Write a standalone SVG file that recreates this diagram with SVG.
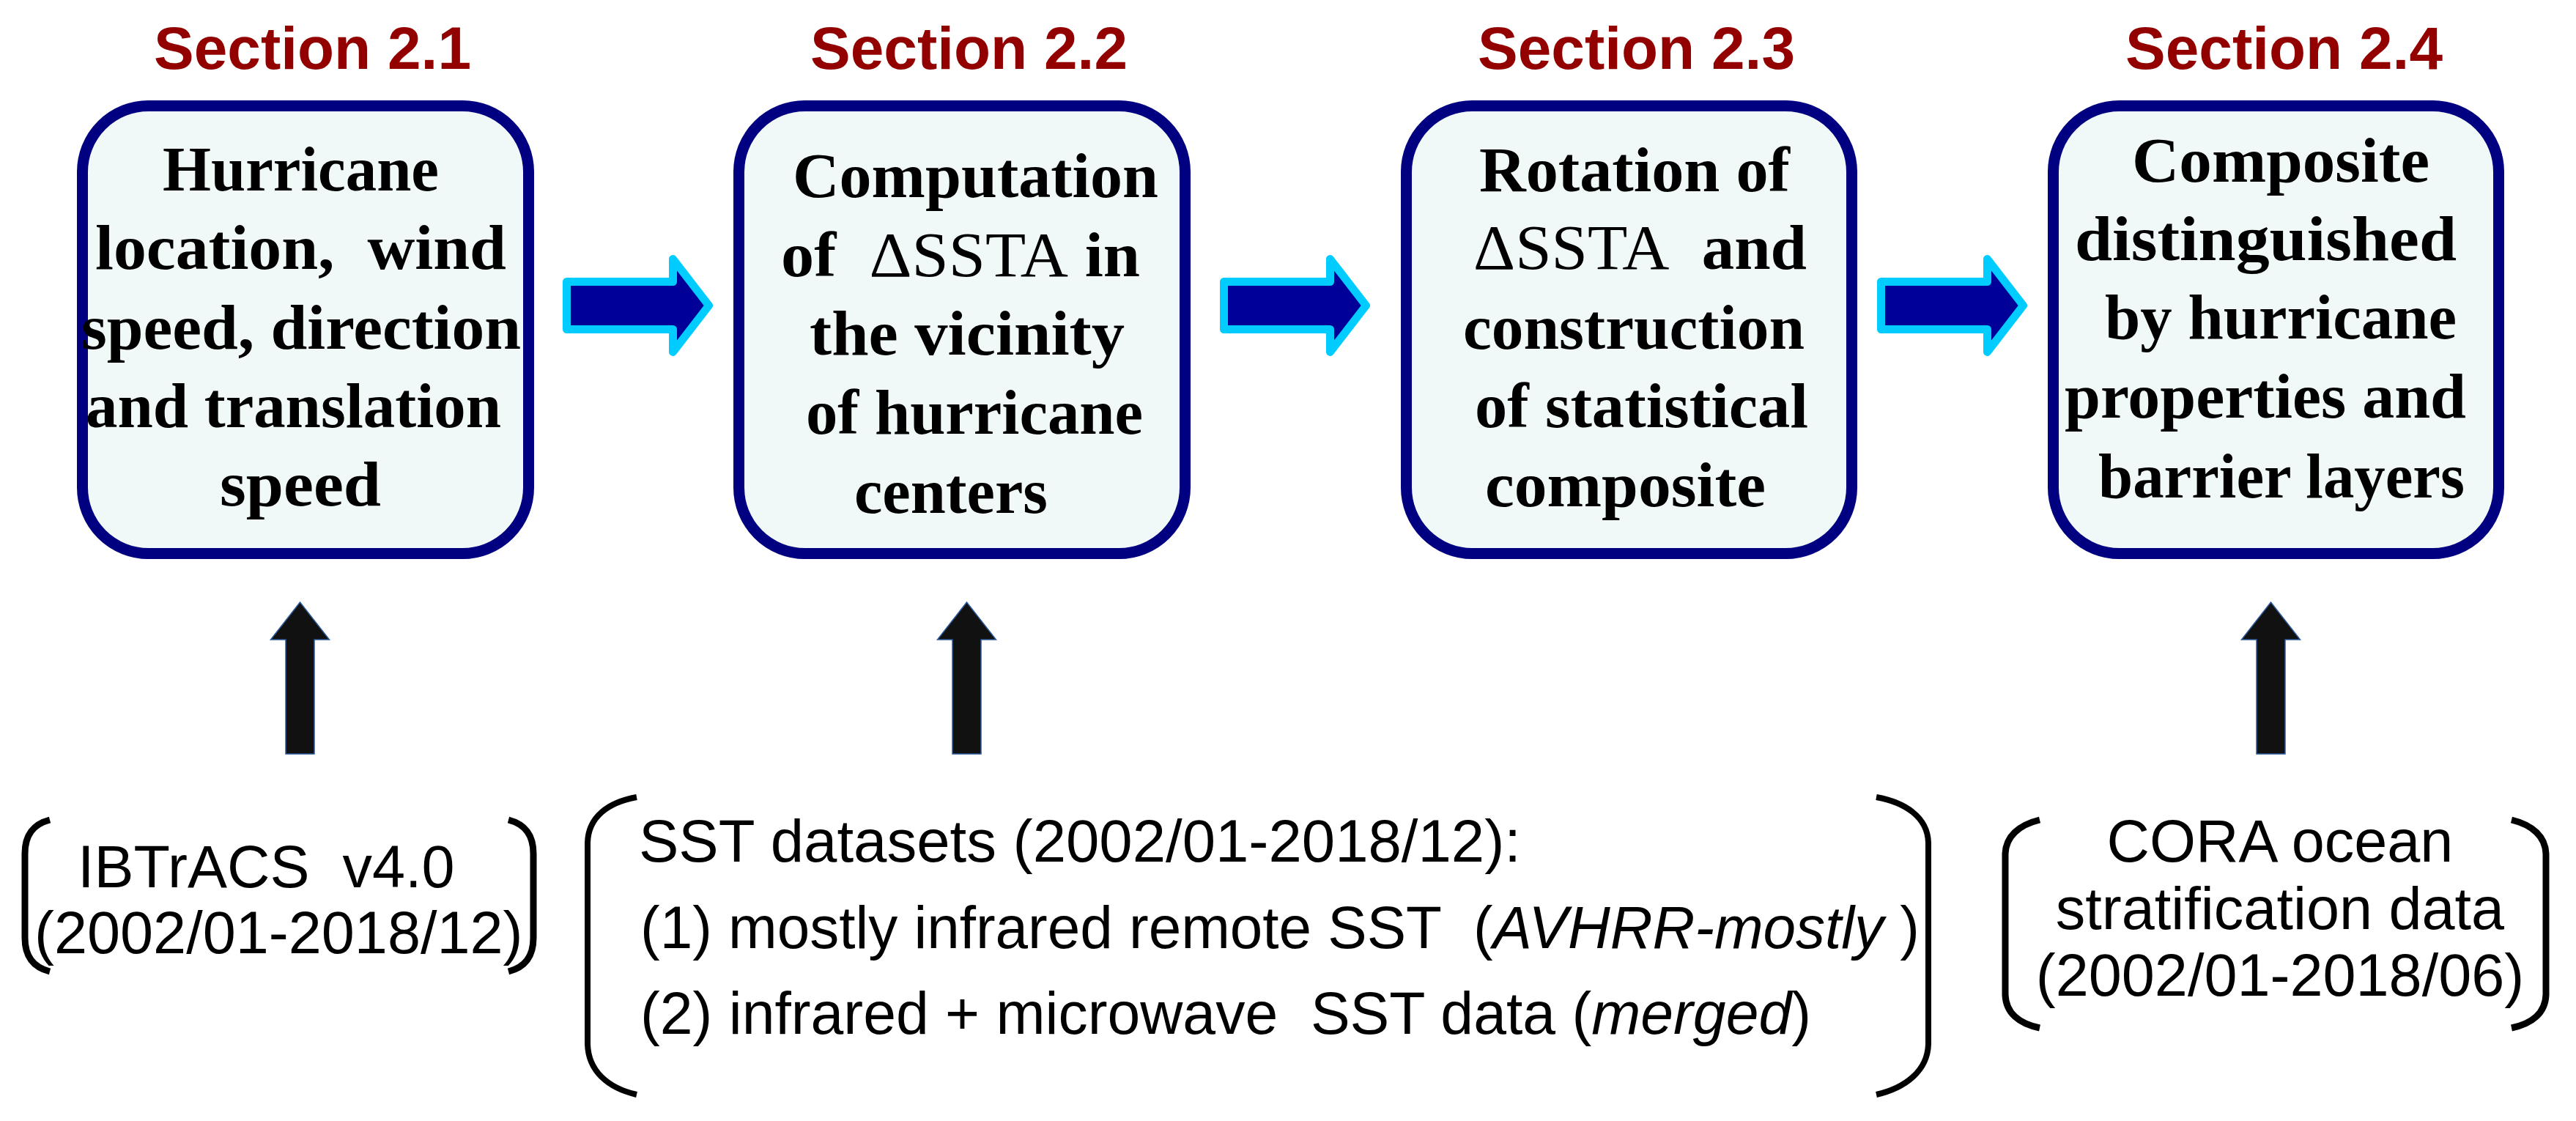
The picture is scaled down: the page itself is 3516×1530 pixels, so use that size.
<svg xmlns="http://www.w3.org/2000/svg" width="3516" height="1530" viewBox="0 0 3516 1530">
<style>
.sec{font-family:"Liberation Sans",Arial,sans-serif;font-weight:bold;font-size:82px;fill:#930000}
.box{fill:#F0F8F8;stroke:#000080;stroke-width:15}
.bt{font-family:"Liberation Serif","Times New Roman",serif;font-weight:bold;font-size:86px;fill:#000}
.nw{font-weight:normal}
.dt{font-family:"Liberation Sans",Arial,sans-serif;font-size:81px;fill:#000}
.it{font-style:italic}
.br{fill:none;stroke:#000;stroke-width:9}
.harr{fill:#000099;stroke:#00CCFF;stroke-width:11;stroke-linejoin:round}
.varr{fill:#111;stroke:#2a5a9a;stroke-width:1.5}
</style>
<rect width="3516" height="1530" fill="#fff"/>

<g id="node-s21">
<text class="sec" x="210" y="94" textLength="433" lengthAdjust="spacingAndGlyphs">Section 2.1</text>
<rect class="box" x="112.5" y="144.5" width="609" height="611" rx="90" ry="90"/>
<text class="bt" x="222" y="260" textLength="377" lengthAdjust="spacingAndGlyphs">Hurricane</text>
<text class="bt" x="130" y="367" textLength="561" lengthAdjust="spacingAndGlyphs" xml:space="preserve">location,  wind</text>
<text class="bt" x="111" y="476" textLength="600" lengthAdjust="spacingAndGlyphs">speed, direction</text>
<text class="bt" x="117" y="583" textLength="567" lengthAdjust="spacingAndGlyphs">and translation</text>
<text class="bt" x="300" y="690" textLength="220" lengthAdjust="spacingAndGlyphs">speed</text>
</g>

<g id="node-s22">
<text class="sec" x="1106" y="94" textLength="433" lengthAdjust="spacingAndGlyphs">Section 2.2</text>
<rect class="box" x="1008.5" y="144.5" width="609" height="611" rx="90" ry="90"/>
<text class="bt" x="1082" y="269" textLength="499" lengthAdjust="spacingAndGlyphs">Computation</text>
<text class="bt" x="1066" y="377" textLength="490" lengthAdjust="spacingAndGlyphs" xml:space="preserve">of  <tspan class="nw">ΔSSTA</tspan> in</text>
<text class="bt" x="1105" y="484" textLength="430" lengthAdjust="spacingAndGlyphs">the vicinity</text>
<text class="bt" x="1100" y="592" textLength="460" lengthAdjust="spacingAndGlyphs">of hurricane</text>
<text class="bt" x="1166" y="700" textLength="264" lengthAdjust="spacingAndGlyphs">centers</text>
</g>

<g id="node-s23">
<text class="sec" x="2017" y="94" textLength="433" lengthAdjust="spacingAndGlyphs">Section 2.3</text>
<rect class="box" x="1919.5" y="144.5" width="608" height="611" rx="90" ry="90"/>
<text class="bt" x="2019" y="261" textLength="424" lengthAdjust="spacingAndGlyphs">Rotation of</text>
<text class="bt" x="2011" y="367" textLength="455" lengthAdjust="spacingAndGlyphs" xml:space="preserve"><tspan class="nw">ΔSSTA</tspan>  and</text>
<text class="bt" x="1997" y="476" textLength="466" lengthAdjust="spacingAndGlyphs">construction</text>
<text class="bt" x="2013" y="583" textLength="455" lengthAdjust="spacingAndGlyphs">of statistical</text>
<text class="bt" x="2027" y="691" textLength="383" lengthAdjust="spacingAndGlyphs">composite</text>
</g>

<g id="node-s24">
<text class="sec" x="2901" y="94" textLength="433" lengthAdjust="spacingAndGlyphs">Section 2.4</text>
<rect class="box" x="2802.5" y="144.5" width="608" height="611" rx="90" ry="90"/>
<text class="bt" x="2910" y="248" textLength="406" lengthAdjust="spacingAndGlyphs">Composite</text>
<text class="bt" x="2832" y="355" textLength="521" lengthAdjust="spacingAndGlyphs">distinguished</text>
<text class="bt" x="2873" y="462" textLength="480" lengthAdjust="spacingAndGlyphs">by hurricane</text>
<text class="bt" x="2818" y="570" textLength="548" lengthAdjust="spacingAndGlyphs">properties and</text>
<text class="bt" x="2864" y="679" textLength="500" lengthAdjust="spacingAndGlyphs">barrier layers</text>
</g>

<g id="node-ibtracs">
<path class="br" d="M68,1119 C45,1125 34,1140 34,1165 V1280 C34,1305 45,1320 68,1326"/>
<path class="br" d="M694,1119 C717,1125 728,1140 728,1165 V1280 C728,1305 717,1320 694,1326"/>
<text class="dt" x="106" y="1211" xml:space="preserve">IBTrACS  v4.0</text>
<text class="dt" x="47" y="1301">(2002/01-2018/12)</text>
</g>

<g id="node-sst">
<path class="br" style="stroke-width:8" d="M869,1088 C830,1095 803,1115 802,1150 V1425 C803,1462 830,1485 869,1494"/>
<path class="br" style="stroke-width:8" d="M2561,1088 C2600,1095 2631,1115 2632,1150 V1425 C2631,1462 2600,1485 2561,1494"/>
<text class="dt" x="872" y="1176" textLength="1204" lengthAdjust="spacingAndGlyphs">SST datasets (2002/01-2018/12):</text>
<text class="dt" x="874" y="1294" textLength="1746" lengthAdjust="spacingAndGlyphs" xml:space="preserve">(1) mostly infrared remote SST  (<tspan class="it">AVHRR-mostly</tspan> )</text>
<text class="dt" x="874" y="1411" textLength="1598" lengthAdjust="spacingAndGlyphs" xml:space="preserve">(2) infrared + microwave  SST data (<tspan class="it">merged</tspan>)</text>
</g>

<g id="node-cora">
<path class="br" d="M2784,1119 C2755,1126 2738,1142 2737,1165 V1358 C2738,1382 2755,1397 2784,1403"/>
<path class="br" d="M3428,1119 C3457,1126 3474,1142 3475,1165 V1358 C3474,1382 3457,1397 3428,1403"/>
<text class="dt" x="3112" y="1176" text-anchor="middle">CORA ocean</text>
<text class="dt" x="3112" y="1268" text-anchor="middle">stratification data</text>
<text class="dt" x="3112" y="1359" text-anchor="middle">(2002/01-2018/06)</text>
</g>

<g id="connectors">
<path class="harr" d="M773.5,384.5 H918.5 V353.5 L967.5,417 L918.5,480.5 V449.5 H773.5 Z"/>
<path class="harr" transform="translate(897,0)" d="M773.5,384.5 H918.5 V353.5 L967.5,417 L918.5,480.5 V449.5 H773.5 Z"/>
<path class="harr" transform="translate(1794,0)" d="M773.5,384.5 H918.5 V353.5 L967.5,417 L918.5,480.5 V449.5 H773.5 Z"/>
<polygon class="varr" points="409.5,822 449.5,873 429,873 429,1029 390,1029 390,873 369.5,873"/>
<polygon class="varr" points="1319.5,822 1359.5,873 1339,873 1339,1029 1300,1029 1300,873 1279.5,873"/>
<polygon class="varr" points="3099.5,822 3139.5,873 3119,873 3119,1029 3080,1029 3080,873 3059.5,873"/>
</g>
</svg>
